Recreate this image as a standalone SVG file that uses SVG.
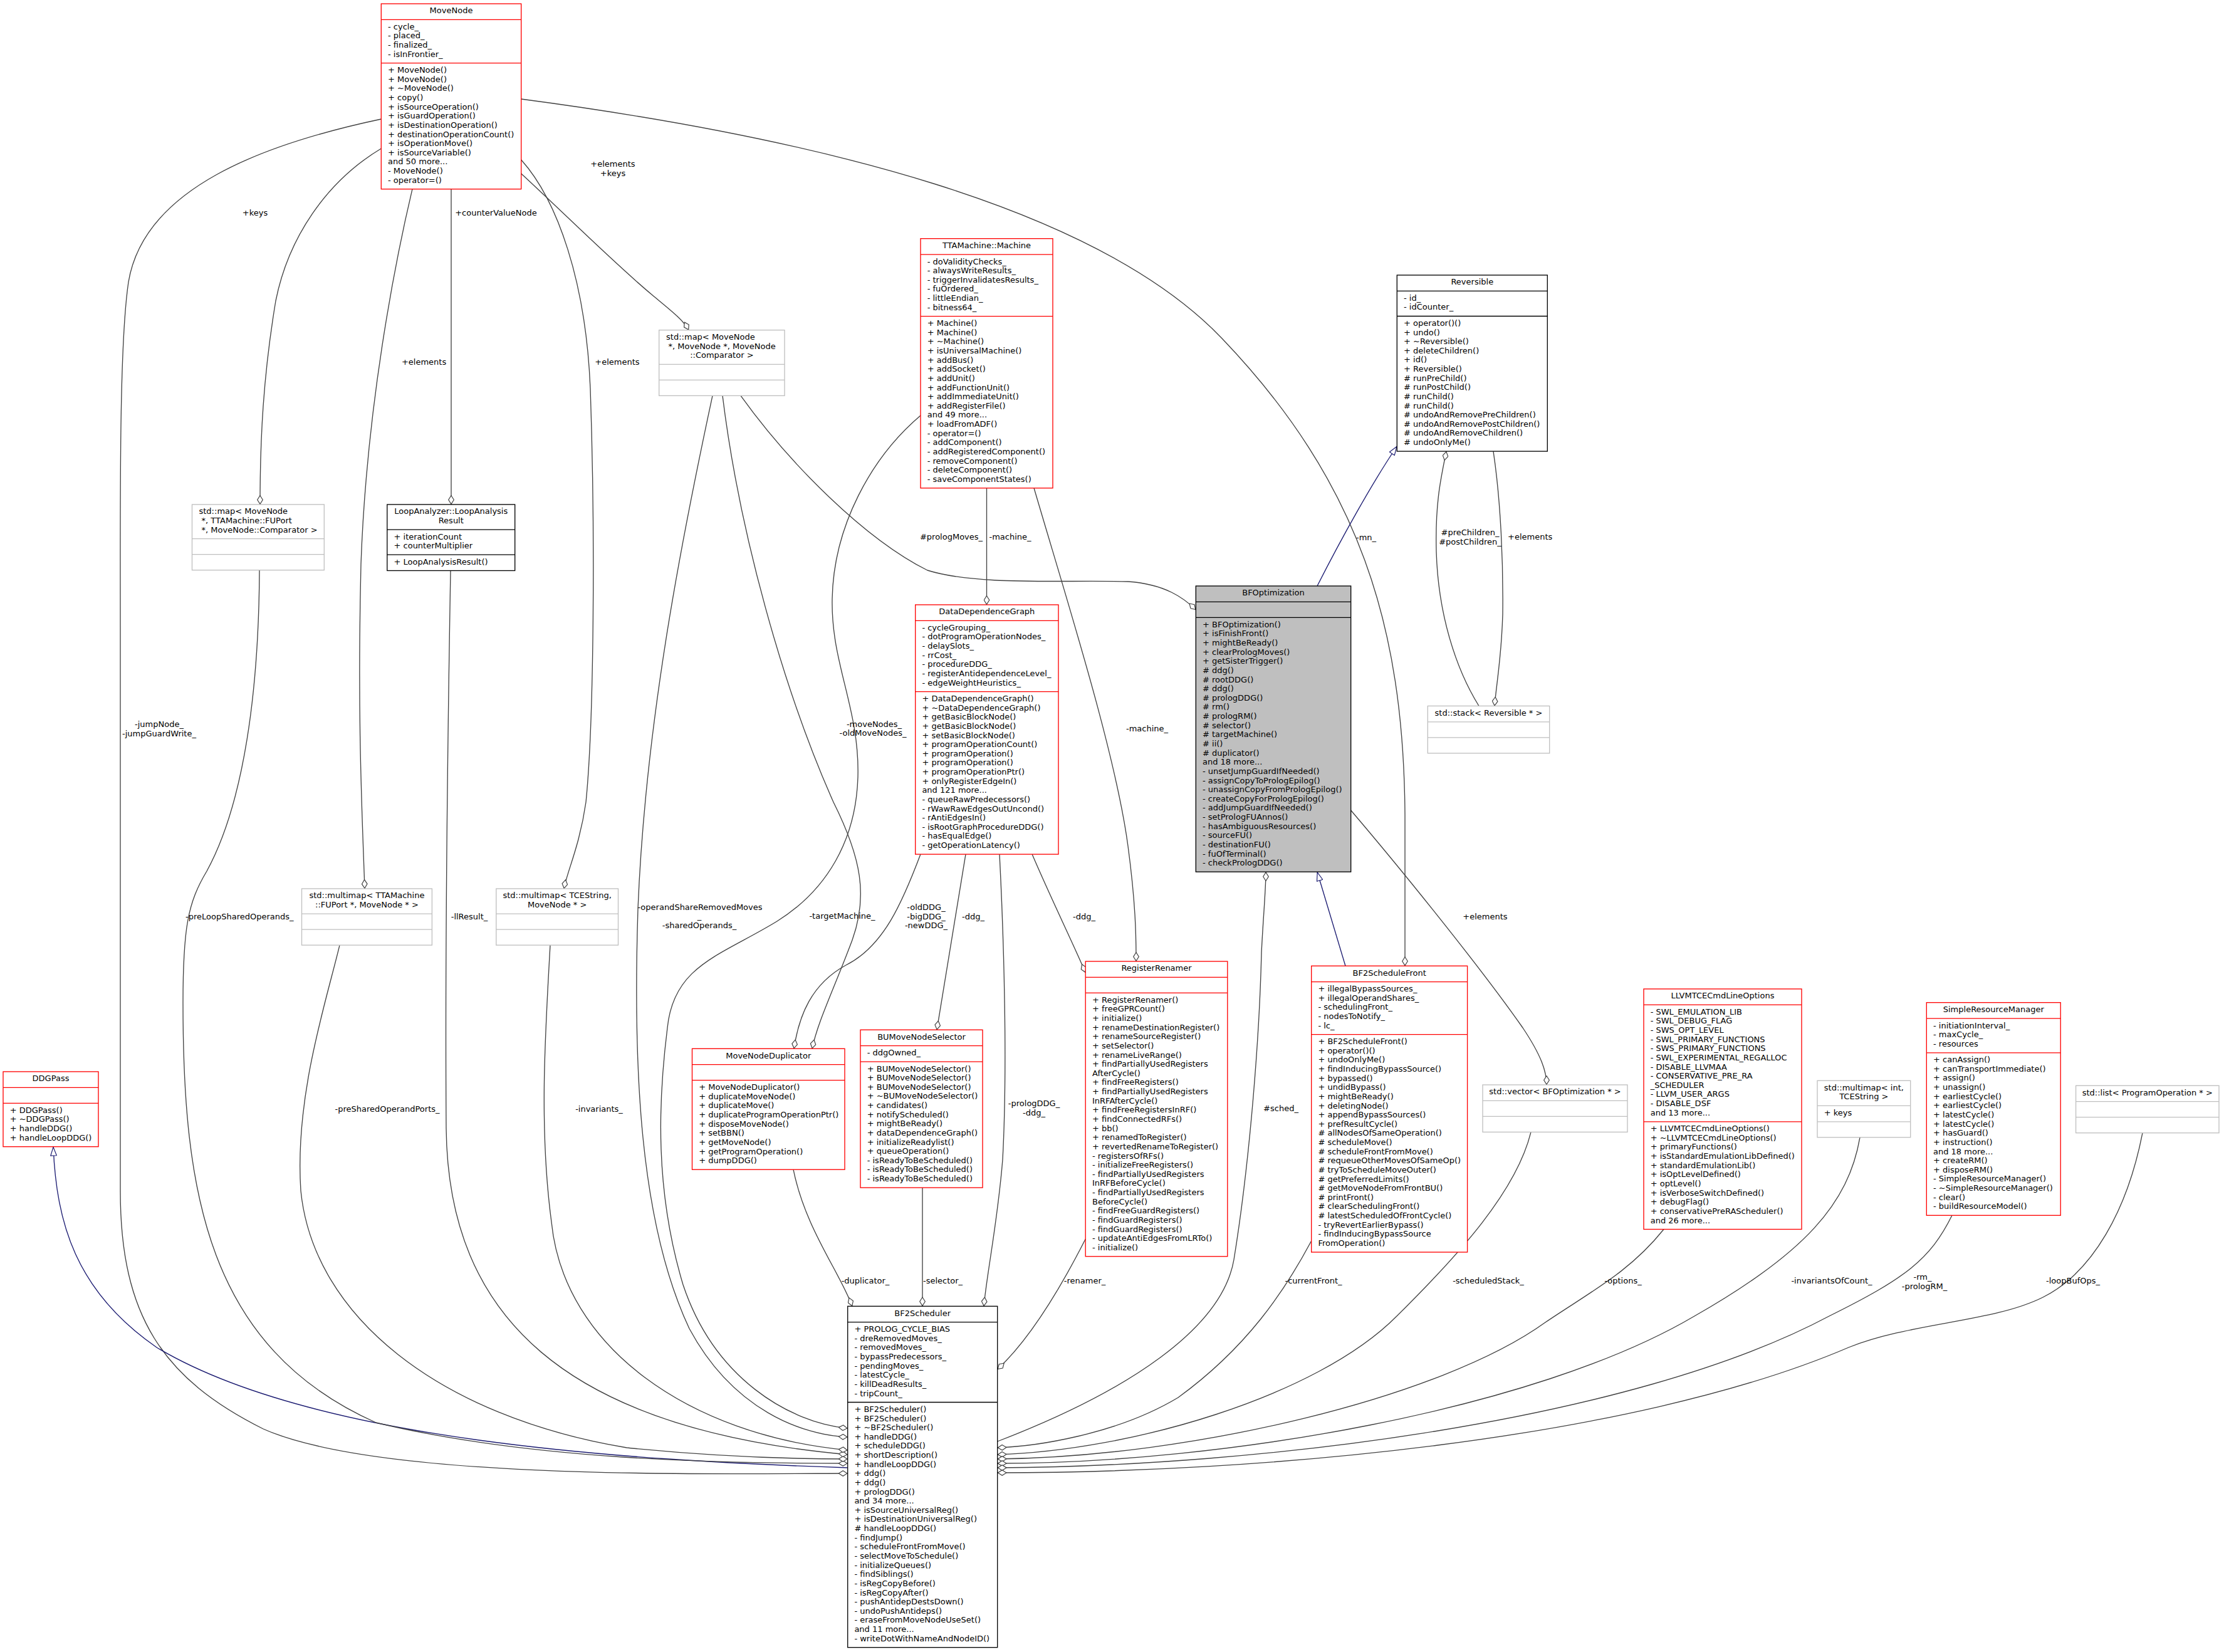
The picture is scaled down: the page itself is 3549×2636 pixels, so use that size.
<svg xmlns="http://www.w3.org/2000/svg" width="3549" height="2636" viewBox="0 0 3549 2636">
<style>
text{font-family:"DejaVu Sans","Liberation Sans",sans-serif;font-size:13px;fill:#000}
.t{text-anchor:middle}
rect{fill:#fff;stroke-width:1.33}
line{stroke-width:1.33}
.red rect,.red line{stroke:#ff0000}
.blk rect,.blk line{stroke:#000}
.gry rect,.gry line{stroke:#bfbfbf}
.sel rect{fill:#bfbfbf;stroke:#000}
.sel line{stroke:#000}
.e path{fill:none;stroke:#404040;stroke-width:1.33}
.e path.a{marker-end:url(#dia)}
.e path.i{stroke:#191970;marker-end:url(#tri)}
.lbl text{text-anchor:middle}
</style>
<defs>
<marker id="dia" viewBox="0 0 15 10" refX="15" refY="5" markerWidth="15" markerHeight="10" markerUnits="userSpaceOnUse" orient="auto"><path d="M0.7,5 L7.5,0.7 L14.3,5 L7.5,9.3 Z" fill="#fff" stroke="#404040" stroke-width="1.2"/></marker>
<marker id="tri" viewBox="0 0 15 11" refX="15" refY="5.5" markerWidth="15" markerHeight="11" markerUnits="userSpaceOnUse" orient="auto"><path d="M0.7,0.7 L14.3,5.5 L0.7,10.3 Z" fill="#fff" stroke="#191970" stroke-width="1.2"/></marker>
</defs>
<rect x="0" y="0" width="3549" height="2636" style="fill:#fff;stroke:none"/>

<g id="edges" class="e">
<path class="a" d="M608.3,190 C420,230 230,300 205,450 C190,550 192,800 192,1000 L192,1900 C192,2100 260,2200 420,2280 C600,2360 1100,2352 1352.7,2351"/>
<path class="a" d="M608.3,237 C520,290 460,380 440,480 C420,600 415,700 415,805"/>
<path class="a" d="M658,301.7 C630,420 585,650 576,900 C570,1150 578,1300 582,1418"/>
<path class="a" d="M720,301.7 L720,805"/>
<path class="a" d="M831.7,255 C890,320 935,450 942,620 C950,850 948,1150 935,1280 C925,1350 905,1390 900,1418"/>
<path class="a" d="M831.7,277 C900,340 980,420 1040,470 C1070,495 1090,510 1099,526.7"/>
<path class="a" d="M831.7,158 C1300,220 1750,330 1950,540 C2170,770 2240,1000 2242,1300 L2242,1541.3"/>
<path class="a" d="M1574.5,778.8 L1574.5,965"/>
<path class="a" d="M1182,631.4 C1260,740 1380,860 1480,910 C1560,935 1700,925 1800,928 C1860,932 1890,955 1908.3,973"/>
<path class="a" d="M1650,778.8 C1700,950 1780,1200 1800,1350 C1812,1440 1813,1490 1813,1534"/>
<path class="a" d="M1469,663 C1390,730 1330,840 1328,956 C1326,1060 1372,1130 1369,1240 C1366,1340 1320,1420 1240,1470 C1150,1525 1075,1540 1065,1640 C1050,1760 1045,1900 1090,2050 C1140,2200 1260,2270 1352.7,2279"/>
<path class="a" d="M1137,631.4 C1090,850 1030,1150 1018,1450 C1010,1700 1020,1950 1100,2120 C1170,2250 1280,2290 1352.7,2293"/>
<path class="a" d="M1153,631.4 C1180,850 1250,1100 1330,1280 C1375,1370 1385,1430 1360,1500 C1330,1580 1305,1630 1296,1673.3"/>
<path class="a" d="M1469,1363.1 C1440,1440 1410,1510 1350,1540 C1295,1570 1275,1620 1267,1673.3"/>
<path class="a" d="M1541,1363.1 L1495,1643.3"/>
<path class="a" d="M1595,1363.1 C1602,1500 1608,1700 1600,1850 C1592,1950 1575,2030 1570,2084.3"/>
<path class="a" d="M1647,1363.1 C1680,1440 1710,1500 1732.2,1552"/>
<path class="i" d="M2102,935 C2140,860 2190,770 2229.3,712"/>
<path class="i" d="M2147,1541.3 L2102,1391.2"/>
<path class="a" d="M1591.7,2300 C1800,2220 1950,2120 1969,2010 C1995,1850 2010,1650 2013,1520 C2016,1460 2020,1420 2020,1391.2"/>
<path class="a" d="M2155.7,1293 C2230,1380 2360,1540 2430,1640 C2460,1685 2468,1710 2468,1731"/>
<path class="a" d="M2360,1126.5 C2323,1067 2295,980 2292,880 C2290,800 2300,760 2308,720.1"/>
<path class="a" d="M2383,720.1 C2395,800 2399,900 2398,980 C2396,1050 2388,1090 2385,1126.5"/>
<path class="i" d="M1352.7,2342 C1000,2330 500,2300 250,2150 C120,2060 90,1950 85,1829.7"/>
<path class="a" d="M414,909.7 C413,1100 390,1280 330,1390 C300,1440 292,1480 292,1600 C292,1900 330,2150 600,2270 C850,2330 1150,2335 1352.7,2335"/>
<path class="a" d="M542,1508.1 C520,1600 470,1750 480,1900 C500,2100 700,2260 1000,2310 C1150,2325 1280,2328 1352.7,2328"/>
<path class="a" d="M719,910.5 C714,1200 710,1500 712,1800 C715,2100 900,2280 1352.7,2321"/>
<path class="a" d="M878,1508.1 C870,1650 860,1800 880,1950 C900,2150 1100,2290 1352.7,2314"/>
<path class="a" d="M1266,1866.2 C1285,1960 1340,2030 1360,2084.3"/>
<path class="a" d="M1472,1895.1 L1472,2084.3"/>
<path class="a" d="M1732.2,1977 C1690,2060 1640,2140 1591.7,2185"/>
<path class="a" d="M2092.7,1980 C2050,2060 1990,2150 1880,2230 C1780,2290 1650,2308 1591.7,2310"/>
<path class="a" d="M2443,1806.4 C2420,1900 2330,2000 2229,2100 C2100,2230 1800,2315 1591.7,2321"/>
<path class="a" d="M2655,1961.5 C2600,2030 2540,2060 2466,2110 C2300,2230 1900,2325 1591.7,2328"/>
<path class="a" d="M2968,1814.8 C2950,1920 2880,2000 2704,2100 C2450,2250 1950,2335 1591.7,2335"/>
<path class="a" d="M3115,1939.3 C3080,2010 3040,2040 2919,2100 C2600,2270 2000,2340 1591.7,2342"/>
<path class="a" d="M3419,1807.7 C3395,1930 3340,2030 3260,2070 C3180,2110 3050,2110 2950,2150 C2600,2300 2000,2350 1591.7,2350"/>
</g>

<g id="edge-labels" class="lbl">
<text x="254" y="1160">-jumpNode_</text><text x="254" y="1175">-jumpGuardWrite_</text>
<text x="407" y="344">+keys</text>
<text x="676.6" y="582">+elements</text>
<text x="791.5" y="344">+counterValueNode</text>
<text x="985" y="582">+elements</text>
<text x="978" y="266">+elements</text><text x="978" y="281">+keys</text>
<text x="2180" y="862">-mn_</text>
<text x="1518" y="861">#prologMoves_</text>
<text x="1612" y="861">-machine_</text>
<text x="1830.5" y="1166.5">-machine_</text>
<text x="1395" y="1159.5">-moveNodes_</text><text x="1393" y="1174">-oldMoveNodes_</text>
<text x="1117" y="1451.5">-operandShareRemovedMoves</text><text x="1116" y="1466">_</text><text x="1116" y="1480.5">-sharedOperands_</text>
<text x="1344" y="1466">-targetMachine_</text>
<text x="1478" y="1452">-oldDDG_</text><text x="1478" y="1466.5">-bigDDG_</text><text x="1478" y="1481">-newDDG_</text>
<text x="1553" y="1466.5">-ddg_</text>
<text x="1730" y="1466.5">-ddg_</text>
<text x="2346" y="854">#preChildren_</text><text x="2346" y="868.6">#postChildren_</text>
<text x="2441.7" y="861">+elements</text>
<text x="2044" y="1772.8">#sched_</text>
<text x="2370" y="1466.5">+elements</text>
<text x="382.3" y="1467">-preLoopSharedOperands_</text>
<text x="749" y="1467">-llResult_</text>
<text x="618" y="1773.5">-preSharedOperandPorts_</text>
<text x="956" y="1773.5">-invariants_</text>
<text x="1650" y="1765">-prologDDG_</text><text x="1650" y="1779.6">-ddg_</text>
<text x="1381" y="2048.4">-duplicator_</text>
<text x="1504.5" y="2048.4">-selector_</text>
<text x="1731" y="2048.4">-renamer_</text>
<text x="2096" y="2048.4">-currentFront_</text>
<text x="2375" y="2048.4">-scheduledStack_</text>
<text x="2590" y="2048.4">-options_</text>
<text x="2923" y="2048.4">-invariantsOfCount_</text>
<text x="3068" y="2042">-rm_</text><text x="3071" y="2056.6">-prologRM_</text>
<text x="3308" y="2048.4">-loopBufOps_</text>
</g>

<g id="MoveNode" class="red">
<rect x="608.3" y="6" width="223.4" height="295.7"/>
<line x1="608.3" y1="31.4" x2="831.7" y2="31.4"/><line x1="608.3" y1="100.7" x2="831.7" y2="100.7"/>
<text class="t" x="720" y="21.4">MoveNode</text>
<text y="46.8"><tspan x="619" dy="0">- cycle_</tspan><tspan x="619" dy="14.63">- placed_</tspan><tspan x="619" dy="14.63">- finalized_</tspan><tspan x="619" dy="14.63">- isInFrontier_</tspan></text>
<text y="116.1"><tspan x="619" dy="0">+ MoveNode()</tspan><tspan x="619" dy="14.63">+ MoveNode()</tspan><tspan x="619" dy="14.63">+ ~MoveNode()</tspan><tspan x="619" dy="14.63">+ copy()</tspan><tspan x="619" dy="14.63">+ isSourceOperation()</tspan><tspan x="619" dy="14.63">+ isGuardOperation()</tspan><tspan x="619" dy="14.63">+ isDestinationOperation()</tspan><tspan x="619" dy="14.63">+ destinationOperationCount()</tspan><tspan x="619" dy="14.63">+ isOperationMove()</tspan><tspan x="619" dy="14.63">+ isSourceVariable()</tspan><tspan x="619" dy="14.63">and 50 more...</tspan><tspan x="619" dy="14.63">- MoveNode()</tspan><tspan x="619" dy="14.63">- operator=()</tspan></text>
</g>

<g id="Machine" class="red">
<rect x="1469" y="380.7" width="211" height="398.1"/>
<line x1="1469" y1="406.1" x2="1680" y2="406.1"/><line x1="1469" y1="504.7" x2="1680" y2="504.7"/>
<text class="t" x="1574.5" y="396.1">TTAMachine::Machine</text>
<text y="421.5"><tspan x="1479.7" dy="0">- doValidityChecks_</tspan><tspan x="1479.7" dy="14.63">- alwaysWriteResults_</tspan><tspan x="1479.7" dy="14.63">- triggerInvalidatesResults_</tspan><tspan x="1479.7" dy="14.63">- fuOrdered_</tspan><tspan x="1479.7" dy="14.63">- littleEndian_</tspan><tspan x="1479.7" dy="14.63">- bitness64_</tspan></text>
<text y="520.1"><tspan x="1479.7" dy="0">+ Machine()</tspan><tspan x="1479.7" dy="14.63">+ Machine()</tspan><tspan x="1479.7" dy="14.63">+ ~Machine()</tspan><tspan x="1479.7" dy="14.63">+ isUniversalMachine()</tspan><tspan x="1479.7" dy="14.63">+ addBus()</tspan><tspan x="1479.7" dy="14.63">+ addSocket()</tspan><tspan x="1479.7" dy="14.63">+ addUnit()</tspan><tspan x="1479.7" dy="14.63">+ addFunctionUnit()</tspan><tspan x="1479.7" dy="14.63">+ addImmediateUnit()</tspan><tspan x="1479.7" dy="14.63">+ addRegisterFile()</tspan><tspan x="1479.7" dy="14.63">and 49 more...</tspan><tspan x="1479.7" dy="14.63">+ loadFromADF()</tspan><tspan x="1479.7" dy="14.63">- operator=()</tspan><tspan x="1479.7" dy="14.63">- addComponent()</tspan><tspan x="1479.7" dy="14.63">- addRegisteredComponent()</tspan><tspan x="1479.7" dy="14.63">- removeComponent()</tspan><tspan x="1479.7" dy="14.63">- deleteComponent()</tspan><tspan x="1479.7" dy="14.63">- saveComponentStates()</tspan></text>
</g>

<g id="Reversible" class="blk">
<rect x="2229.3" y="439" width="240" height="281.1"/>
<line x1="2229.3" y1="464.4" x2="2469.3" y2="464.4"/><line x1="2229.3" y1="504.5" x2="2469.3" y2="504.5"/>
<text class="t" x="2349.3" y="454.4">Reversible</text>
<text y="479.8"><tspan x="2240" dy="0">- id_</tspan><tspan x="2240" dy="14.63">- idCounter_</tspan></text>
<text y="519.9"><tspan x="2240" dy="0">+ operator()()</tspan><tspan x="2240" dy="14.63">+ undo()</tspan><tspan x="2240" dy="14.63">+ ~Reversible()</tspan><tspan x="2240" dy="14.63">+ deleteChildren()</tspan><tspan x="2240" dy="14.63">+ id()</tspan><tspan x="2240" dy="14.63">+ Reversible()</tspan><tspan x="2240" dy="14.63"># runPreChild()</tspan><tspan x="2240" dy="14.63"># runPostChild()</tspan><tspan x="2240" dy="14.63"># runChild()</tspan><tspan x="2240" dy="14.63"># runChild()</tspan><tspan x="2240" dy="14.63"># undoAndRemovePreChildren()</tspan><tspan x="2240" dy="14.63"># undoAndRemovePostChildren()</tspan><tspan x="2240" dy="14.63"># undoAndRemoveChildren()</tspan><tspan x="2240" dy="14.63"># undoOnlyMe()</tspan></text>
</g>

<g id="StackReversible" class="gry">
<rect x="2278.3" y="1126.5" width="194.4" height="75.4"/>
<line x1="2278.3" y1="1151.9" x2="2472.7" y2="1151.9"/><line x1="2278.3" y1="1176.9" x2="2472.7" y2="1176.9"/>
<text class="t" x="2375.5" y="1141.9">std::stack&lt; Reversible * &gt;</text>
</g>

<g id="BFOptimization" class="sel">
<rect x="1908.3" y="935" width="247.4" height="456.2"/>
<line x1="1908.3" y1="960.4" x2="2155.7" y2="960.4"/><line x1="1908.3" y1="985.4" x2="2155.7" y2="985.4"/>
<text class="t" x="2032" y="950.4">BFOptimization</text>
<text y="1000.8"><tspan x="1919" dy="0">+ BFOptimization()</tspan><tspan x="1919" dy="14.63">+ isFinishFront()</tspan><tspan x="1919" dy="14.63">+ mightBeReady()</tspan><tspan x="1919" dy="14.63">+ clearPrologMoves()</tspan><tspan x="1919" dy="14.63">+ getSisterTrigger()</tspan><tspan x="1919" dy="14.63"># ddg()</tspan><tspan x="1919" dy="14.63"># rootDDG()</tspan><tspan x="1919" dy="14.63"># ddg()</tspan><tspan x="1919" dy="14.63"># prologDDG()</tspan><tspan x="1919" dy="14.63"># rm()</tspan><tspan x="1919" dy="14.63"># prologRM()</tspan><tspan x="1919" dy="14.63"># selector()</tspan><tspan x="1919" dy="14.63"># targetMachine()</tspan><tspan x="1919" dy="14.63"># ii()</tspan><tspan x="1919" dy="14.63"># duplicator()</tspan><tspan x="1919" dy="14.63">and 18 more...</tspan><tspan x="1919" dy="14.63">- unsetJumpGuardIfNeeded()</tspan><tspan x="1919" dy="14.63">- assignCopyToPrologEpilog()</tspan><tspan x="1919" dy="14.63">- unassignCopyFromPrologEpilog()</tspan><tspan x="1919" dy="14.63">- createCopyForPrologEpilog()</tspan><tspan x="1919" dy="14.63">- addJumpGuardIfNeeded()</tspan><tspan x="1919" dy="14.63">- setPrologFUAnnos()</tspan><tspan x="1919" dy="14.63">- hasAmbiguousResources()</tspan><tspan x="1919" dy="14.63">- sourceFU()</tspan><tspan x="1919" dy="14.63">- destinationFU()</tspan><tspan x="1919" dy="14.63">- fuOfTerminal()</tspan><tspan x="1919" dy="14.63">- checkPrologDDG()</tspan></text>
</g>

<g id="DataDependenceGraph" class="red">
<rect x="1460.7" y="965" width="228.3" height="398.1"/>
<line x1="1460.7" y1="990.4" x2="1689" y2="990.4"/><line x1="1460.7" y1="1103.6" x2="1689" y2="1103.6"/>
<text class="t" x="1574.85" y="980.4">DataDependenceGraph</text>
<text y="1005.8"><tspan x="1471.4" dy="0">- cycleGrouping_</tspan><tspan x="1471.4" dy="14.63">- dotProgramOperationNodes_</tspan><tspan x="1471.4" dy="14.63">- delaySlots_</tspan><tspan x="1471.4" dy="14.63">- rrCost_</tspan><tspan x="1471.4" dy="14.63">- procedureDDG_</tspan><tspan x="1471.4" dy="14.63">- registerAntidependenceLevel_</tspan><tspan x="1471.4" dy="14.63">- edgeWeightHeuristics_</tspan></text>
<text y="1119"><tspan x="1471.4" dy="0">+ DataDependenceGraph()</tspan><tspan x="1471.4" dy="14.63">+ ~DataDependenceGraph()</tspan><tspan x="1471.4" dy="14.63">+ getBasicBlockNode()</tspan><tspan x="1471.4" dy="14.63">+ getBasicBlockNode()</tspan><tspan x="1471.4" dy="14.63">+ setBasicBlockNode()</tspan><tspan x="1471.4" dy="14.63">+ programOperationCount()</tspan><tspan x="1471.4" dy="14.63">+ programOperation()</tspan><tspan x="1471.4" dy="14.63">+ programOperation()</tspan><tspan x="1471.4" dy="14.63">+ programOperationPtr()</tspan><tspan x="1471.4" dy="14.63">+ onlyRegisterEdgeIn()</tspan><tspan x="1471.4" dy="14.63">and 121 more...</tspan><tspan x="1471.4" dy="14.63">- queueRawPredecessors()</tspan><tspan x="1471.4" dy="14.63">- rWawRawEdgesOutUncond()</tspan><tspan x="1471.4" dy="14.63">- rAntiEdgesIn()</tspan><tspan x="1471.4" dy="14.63">- isRootGraphProcedureDDG()</tspan><tspan x="1471.4" dy="14.63">- hasEqualEdge()</tspan><tspan x="1471.4" dy="14.63">- getOperationLatency()</tspan></text>
</g>

<g id="RegisterRenamer" class="red">
<rect x="1732.2" y="1534" width="226.6" height="470.8"/>
<line x1="1732.2" y1="1559.4" x2="1958.8" y2="1559.4"/><line x1="1732.2" y1="1584.4" x2="1958.8" y2="1584.4"/>
<text class="t" x="1845.5" y="1549.4">RegisterRenamer</text>
<text y="1599.8"><tspan x="1743" dy="0">+ RegisterRenamer()</tspan><tspan x="1743" dy="14.63">+ freeGPRCount()</tspan><tspan x="1743" dy="14.63">+ initialize()</tspan><tspan x="1743" dy="14.63">+ renameDestinationRegister()</tspan><tspan x="1743" dy="14.63">+ renameSourceRegister()</tspan><tspan x="1743" dy="14.63">+ setSelector()</tspan><tspan x="1743" dy="14.63">+ renameLiveRange()</tspan><tspan x="1743" dy="14.63">+ findPartiallyUsedRegisters</tspan><tspan x="1743" dy="14.63">AfterCycle()</tspan><tspan x="1743" dy="14.63">+ findFreeRegisters()</tspan><tspan x="1743" dy="14.63">+ findPartiallyUsedRegisters</tspan><tspan x="1743" dy="14.63">InRFAfterCycle()</tspan><tspan x="1743" dy="14.63">+ findFreeRegistersInRF()</tspan><tspan x="1743" dy="14.63">+ findConnectedRFs()</tspan><tspan x="1743" dy="14.63">+ bb()</tspan><tspan x="1743" dy="14.63">+ renamedToRegister()</tspan><tspan x="1743" dy="14.63">+ revertedRenameToRegister()</tspan><tspan x="1743" dy="14.63">- registersOfRFs()</tspan><tspan x="1743" dy="14.63">- initializeFreeRegisters()</tspan><tspan x="1743" dy="14.63">- findPartiallyUsedRegisters</tspan><tspan x="1743" dy="14.63">InRFBeforeCycle()</tspan><tspan x="1743" dy="14.63">- findPartiallyUsedRegisters</tspan><tspan x="1743" dy="14.63">BeforeCycle()</tspan><tspan x="1743" dy="14.63">- findFreeGuardRegisters()</tspan><tspan x="1743" dy="14.63">- findGuardRegisters()</tspan><tspan x="1743" dy="14.63">- findGuardRegisters()</tspan><tspan x="1743" dy="14.63">- updateAntiEdgesFromLRTo()</tspan><tspan x="1743" dy="14.63">- initialize()</tspan></text>
</g>

<g id="BF2ScheduleFront" class="red">
<rect x="2092.7" y="1541.3" width="248.9" height="456.7"/>
<line x1="2092.7" y1="1566.7" x2="2341.6" y2="1566.7"/><line x1="2092.7" y1="1650.7" x2="2341.6" y2="1650.7"/>
<text class="t" x="2217.2" y="1556.7">BF2ScheduleFront</text>
<text y="1582.1"><tspan x="2103.4" dy="0">+ illegalBypassSources_</tspan><tspan x="2103.4" dy="14.63">+ illegalOperandShares_</tspan><tspan x="2103.4" dy="14.63">- schedulingFront_</tspan><tspan x="2103.4" dy="14.63">- nodesToNotify_</tspan><tspan x="2103.4" dy="14.63">- lc_</tspan></text>
<text y="1666.1"><tspan x="2103.4" dy="0">+ BF2ScheduleFront()</tspan><tspan x="2103.4" dy="14.63">+ operator()()</tspan><tspan x="2103.4" dy="14.63">+ undoOnlyMe()</tspan><tspan x="2103.4" dy="14.63">+ findInducingBypassSource()</tspan><tspan x="2103.4" dy="14.63">+ bypassed()</tspan><tspan x="2103.4" dy="14.63">+ undidBypass()</tspan><tspan x="2103.4" dy="14.63">+ mightBeReady()</tspan><tspan x="2103.4" dy="14.63">+ deletingNode()</tspan><tspan x="2103.4" dy="14.63">+ appendBypassSources()</tspan><tspan x="2103.4" dy="14.63">+ prefResultCycle()</tspan><tspan x="2103.4" dy="14.63"># allNodesOfSameOperation()</tspan><tspan x="2103.4" dy="14.63"># scheduleMove()</tspan><tspan x="2103.4" dy="14.63"># scheduleFrontFromMove()</tspan><tspan x="2103.4" dy="14.63"># requeueOtherMovesOfSameOp()</tspan><tspan x="2103.4" dy="14.63"># tryToScheduleMoveOuter()</tspan><tspan x="2103.4" dy="14.63"># getPreferredLimits()</tspan><tspan x="2103.4" dy="14.63"># getMoveNodeFromFrontBU()</tspan><tspan x="2103.4" dy="14.63"># printFront()</tspan><tspan x="2103.4" dy="14.63"># clearSchedulingFront()</tspan><tspan x="2103.4" dy="14.63"># latestScheduledOfFrontCycle()</tspan><tspan x="2103.4" dy="14.63">- tryRevertEarlierBypass()</tspan><tspan x="2103.4" dy="14.63">- findInducingBypassSource</tspan><tspan x="2103.4" dy="14.63">FromOperation()</tspan></text>
</g>

<g id="LLVMTCECmdLineOptions" class="red">
<rect x="2623" y="1578" width="252" height="383.5"/>
<line x1="2623" y1="1603.4" x2="2875" y2="1603.4"/><line x1="2623" y1="1789.8" x2="2875" y2="1789.8"/>
<text class="t" x="2749" y="1593.4">LLVMTCECmdLineOptions</text>
<text y="1618.8"><tspan x="2633.7" dy="0">- SWL_EMULATION_LIB</tspan><tspan x="2633.7" dy="14.63">- SWL_DEBUG_FLAG</tspan><tspan x="2633.7" dy="14.63">- SWS_OPT_LEVEL</tspan><tspan x="2633.7" dy="14.63">- SWL_PRIMARY_FUNCTIONS</tspan><tspan x="2633.7" dy="14.63">- SWS_PRIMARY_FUNCTIONS</tspan><tspan x="2633.7" dy="14.63">- SWL_EXPERIMENTAL_REGALLOC</tspan><tspan x="2633.7" dy="14.63">- DISABLE_LLVMAA</tspan><tspan x="2633.7" dy="14.63">- CONSERVATIVE_PRE_RA</tspan><tspan x="2633.7" dy="14.63">_SCHEDULER</tspan><tspan x="2633.7" dy="14.63">- LLVM_USER_ARGS</tspan><tspan x="2633.7" dy="14.63">- DISABLE_DSF</tspan><tspan x="2633.7" dy="14.63">and 13 more...</tspan></text>
<text y="1805.2"><tspan x="2633.7" dy="0">+ LLVMTCECmdLineOptions()</tspan><tspan x="2633.7" dy="14.63">+ ~LLVMTCECmdLineOptions()</tspan><tspan x="2633.7" dy="14.63">+ primaryFunctions()</tspan><tspan x="2633.7" dy="14.63">+ isStandardEmulationLibDefined()</tspan><tspan x="2633.7" dy="14.63">+ standardEmulationLib()</tspan><tspan x="2633.7" dy="14.63">+ isOptLevelDefined()</tspan><tspan x="2633.7" dy="14.63">+ optLevel()</tspan><tspan x="2633.7" dy="14.63">+ isVerboseSwitchDefined()</tspan><tspan x="2633.7" dy="14.63">+ debugFlag()</tspan><tspan x="2633.7" dy="14.63">+ conservativePreRAScheduler()</tspan><tspan x="2633.7" dy="14.63">and 26 more...</tspan></text>
</g>

<g id="MultimapIntTCEString" class="gry">
<rect x="2900" y="1724.3" width="148.7" height="90.5"/>
<line x1="2900" y1="1764.4" x2="3048.7" y2="1764.4"/><line x1="2900" y1="1789.8" x2="3048.7" y2="1789.8"/>
<text class="t" x="2974.35" y="1739.7">std::multimap&lt; int,</text>
<text class="t" x="2974.35" y="1754.3">TCEString &gt;</text>
<text x="2910.7" y="1779.8">+ keys</text>
</g>

<g id="SimpleResourceManager" class="red">
<rect x="3074.3" y="1599.7" width="213.9" height="339.6"/>
<line x1="3074.3" y1="1625.1" x2="3288.2" y2="1625.1"/><line x1="3074.3" y1="1679.8" x2="3288.2" y2="1679.8"/>
<text class="t" x="3181.25" y="1615.1">SimpleResourceManager</text>
<text y="1640.5"><tspan x="3085" dy="0">- initiationInterval_</tspan><tspan x="3085" dy="14.63">- maxCycle_</tspan><tspan x="3085" dy="14.63">- resources</tspan></text>
<text y="1695.2"><tspan x="3085" dy="0">+ canAssign()</tspan><tspan x="3085" dy="14.63">+ canTransportImmediate()</tspan><tspan x="3085" dy="14.63">+ assign()</tspan><tspan x="3085" dy="14.63">+ unassign()</tspan><tspan x="3085" dy="14.63">+ earliestCycle()</tspan><tspan x="3085" dy="14.63">+ earliestCycle()</tspan><tspan x="3085" dy="14.63">+ latestCycle()</tspan><tspan x="3085" dy="14.63">+ latestCycle()</tspan><tspan x="3085" dy="14.63">+ hasGuard()</tspan><tspan x="3085" dy="14.63">+ instruction()</tspan><tspan x="3085" dy="14.63">and 18 more...</tspan><tspan x="3085" dy="14.63">+ createRM()</tspan><tspan x="3085" dy="14.63">+ disposeRM()</tspan><tspan x="3085" dy="14.63">- SimpleResourceManager()</tspan><tspan x="3085" dy="14.63">- ~SimpleResourceManager()</tspan><tspan x="3085" dy="14.63">- clear()</tspan><tspan x="3085" dy="14.63">- buildResourceModel()</tspan></text>
</g>

<g id="ListProgramOperation" class="gry">
<rect x="3312.6" y="1732.3" width="228.4" height="75.4"/>
<line x1="3312.6" y1="1757.7" x2="3541" y2="1757.7"/><line x1="3312.6" y1="1782.7" x2="3541" y2="1782.7"/>
<text class="t" x="3426.8" y="1747.7">std::list&lt; ProgramOperation * &gt;</text>
</g>

<g id="VectorBFOptimization" class="gry">
<rect x="2366" y="1731" width="231" height="75.4"/>
<line x1="2366" y1="1756.4" x2="2597" y2="1756.4"/><line x1="2366" y1="1781.4" x2="2597" y2="1781.4"/>
<text class="t" x="2481.5" y="1746.4">std::vector&lt; BFOptimization * &gt;</text>
</g>

<g id="BF2Scheduler" class="blk">
<rect x="1352.7" y="2084.3" width="239" height="544.4"/>
<line x1="1352.7" y1="2109.7" x2="1591.7" y2="2109.7"/><line x1="1352.7" y1="2237.5" x2="1591.7" y2="2237.5"/>
<text class="t" x="1472.2" y="2099.7">BF2Scheduler</text>
<text y="2125.1"><tspan x="1363.4" dy="0">+ PROLOG_CYCLE_BIAS</tspan><tspan x="1363.4" dy="14.63">- dreRemovedMoves_</tspan><tspan x="1363.4" dy="14.63">- removedMoves_</tspan><tspan x="1363.4" dy="14.63">- bypassPredecessors_</tspan><tspan x="1363.4" dy="14.63">- pendingMoves_</tspan><tspan x="1363.4" dy="14.63">- latestCycle_</tspan><tspan x="1363.4" dy="14.63">- killDeadResults_</tspan><tspan x="1363.4" dy="14.63">- tripCount_</tspan></text>
<text y="2252.9"><tspan x="1363.4" dy="0">+ BF2Scheduler()</tspan><tspan x="1363.4" dy="14.63">+ BF2Scheduler()</tspan><tspan x="1363.4" dy="14.63">+ ~BF2Scheduler()</tspan><tspan x="1363.4" dy="14.63">+ handleDDG()</tspan><tspan x="1363.4" dy="14.63">+ scheduleDDG()</tspan><tspan x="1363.4" dy="14.63">+ shortDescription()</tspan><tspan x="1363.4" dy="14.63">+ handleLoopDDG()</tspan><tspan x="1363.4" dy="14.63">+ ddg()</tspan><tspan x="1363.4" dy="14.63">+ ddg()</tspan><tspan x="1363.4" dy="14.63">+ prologDDG()</tspan><tspan x="1363.4" dy="14.63">and 34 more...</tspan><tspan x="1363.4" dy="14.63">+ isSourceUniversalReg()</tspan><tspan x="1363.4" dy="14.63">+ isDestinationUniversalReg()</tspan><tspan x="1363.4" dy="14.63"># handleLoopDDG()</tspan><tspan x="1363.4" dy="14.63">- findJump()</tspan><tspan x="1363.4" dy="14.63">- scheduleFrontFromMove()</tspan><tspan x="1363.4" dy="14.63">- selectMoveToSchedule()</tspan><tspan x="1363.4" dy="14.63">- initializeQueues()</tspan><tspan x="1363.4" dy="14.63">- findSiblings()</tspan><tspan x="1363.4" dy="14.63">- isRegCopyBefore()</tspan><tspan x="1363.4" dy="14.63">- isRegCopyAfter()</tspan><tspan x="1363.4" dy="14.63">- pushAntidepDestsDown()</tspan><tspan x="1363.4" dy="14.63">- undoPushAntideps()</tspan><tspan x="1363.4" dy="14.63">- eraseFromMoveNodeUseSet()</tspan><tspan x="1363.4" dy="14.63">and 11 more...</tspan><tspan x="1363.4" dy="14.63">- writeDotWithNameAndNodeID()</tspan></text>
</g>

<g id="DDGPass" class="red">
<rect x="5" y="1710" width="152" height="119.7"/>
<line x1="5" y1="1735.4" x2="157" y2="1735.4"/><line x1="5" y1="1760.4" x2="157" y2="1760.4"/>
<text class="t" x="81" y="1725.4">DDGPass</text>
<text y="1775.8"><tspan x="15.7" dy="0">+ DDGPass()</tspan><tspan x="15.7" dy="14.63">+ ~DDGPass()</tspan><tspan x="15.7" dy="14.63">+ handleDDG()</tspan><tspan x="15.7" dy="14.63">+ handleLoopDDG()</tspan></text>
</g>

<g id="MoveNodeDuplicator" class="red">
<rect x="1104.5" y="1673.3" width="243.5" height="192.9"/>
<line x1="1104.5" y1="1698.7" x2="1348" y2="1698.7"/><line x1="1104.5" y1="1723.7" x2="1348" y2="1723.7"/>
<text class="t" x="1226.25" y="1688.7">MoveNodeDuplicator</text>
<text y="1739.1"><tspan x="1115.2" dy="0">+ MoveNodeDuplicator()</tspan><tspan x="1115.2" dy="14.63">+ duplicateMoveNode()</tspan><tspan x="1115.2" dy="14.63">+ duplicateMove()</tspan><tspan x="1115.2" dy="14.63">+ duplicateProgramOperationPtr()</tspan><tspan x="1115.2" dy="14.63">+ disposeMoveNode()</tspan><tspan x="1115.2" dy="14.63">+ setBBN()</tspan><tspan x="1115.2" dy="14.63">+ getMoveNode()</tspan><tspan x="1115.2" dy="14.63">+ getProgramOperation()</tspan><tspan x="1115.2" dy="14.63">+ dumpDDG()</tspan></text>
</g>

<g id="BUMoveNodeSelector" class="red">
<rect x="1373" y="1643.3" width="195" height="251.8"/>
<line x1="1373" y1="1668.7" x2="1568" y2="1668.7"/><line x1="1373" y1="1694.1" x2="1568" y2="1694.1"/>
<text class="t" x="1470.5" y="1658.7">BUMoveNodeSelector</text>
<text x="1383.7" y="1684.1">- ddgOwned_</text>
<text y="1709.5"><tspan x="1383.7" dy="0">+ BUMoveNodeSelector()</tspan><tspan x="1383.7" dy="14.63">+ BUMoveNodeSelector()</tspan><tspan x="1383.7" dy="14.63">+ BUMoveNodeSelector()</tspan><tspan x="1383.7" dy="14.63">+ ~BUMoveNodeSelector()</tspan><tspan x="1383.7" dy="14.63">+ candidates()</tspan><tspan x="1383.7" dy="14.63">+ notifyScheduled()</tspan><tspan x="1383.7" dy="14.63">+ mightBeReady()</tspan><tspan x="1383.7" dy="14.63">+ dataDependenceGraph()</tspan><tspan x="1383.7" dy="14.63">+ initializeReadylist()</tspan><tspan x="1383.7" dy="14.63">+ queueOperation()</tspan><tspan x="1383.7" dy="14.63">- isReadyToBeScheduled()</tspan><tspan x="1383.7" dy="14.63">- isReadyToBeScheduled()</tspan><tspan x="1383.7" dy="14.63">- isReadyToBeScheduled()</tspan></text>
</g>

<g id="MapMoveNodeFUPort" class="gry">
<rect x="306.5" y="805" width="210.8" height="104.7"/>
<line x1="306.5" y1="859.7" x2="517.3" y2="859.7"/><line x1="306.5" y1="884.7" x2="517.3" y2="884.7"/>
<text x="317.5" y="820.4">std::map&lt; MoveNode</text>
<text x="321.6" y="835">*, TTAMachine::FUPort</text>
<text x="321.6" y="849.7">*, MoveNode::Comparator &gt;</text>
</g>

<g id="LoopAnalysisResult" class="blk">
<rect x="617.8" y="805" width="203.9" height="105.5"/>
<line x1="617.8" y1="845.1" x2="821.7" y2="845.1"/><line x1="617.8" y1="885.1" x2="821.7" y2="885.1"/>
<text class="t" x="719.75" y="820.4">LoopAnalyzer::LoopAnalysis</text>
<text class="t" x="719.75" y="835">Result</text>
<text y="860.5"><tspan x="628.5" dy="0">+ iterationCount</tspan><tspan x="628.5" dy="14.63">+ counterMultiplier</tspan></text>
<text x="628.5" y="900.5">+ LoopAnalysisResult()</text>
</g>

<g id="MultimapFUPortMoveNode" class="gry">
<rect x="481.5" y="1418" width="207.9" height="90.1"/>
<line x1="481.5" y1="1458.1" x2="689.4" y2="1458.1"/><line x1="481.5" y1="1483.1" x2="689.4" y2="1483.1"/>
<text class="t" x="585.45" y="1433.4">std::multimap&lt; TTAMachine</text>
<text class="t" x="585.45" y="1448">::FUPort *, MoveNode * &gt;</text>
</g>

<g id="MultimapTCEStringMoveNode" class="gry">
<rect x="791.8" y="1418" width="194.7" height="90.1"/>
<line x1="791.8" y1="1458.1" x2="986.5" y2="1458.1"/><line x1="791.8" y1="1483.1" x2="986.5" y2="1483.1"/>
<text class="t" x="889.15" y="1433.4">std::multimap&lt; TCEString,</text>
<text class="t" x="889.15" y="1448">MoveNode * &gt;</text>
</g>

<g id="MapMoveNodeMoveNode" class="gry">
<rect x="1051.7" y="526.7" width="200.3" height="104.7"/>
<line x1="1051.7" y1="581.4" x2="1252" y2="581.4"/><line x1="1051.7" y1="606.4" x2="1252" y2="606.4"/>
<text x="1063.1" y="542.1">std::map&lt; MoveNode</text>
<text x="1066.5" y="556.7">*, MoveNode *, MoveNode</text>
<text class="t" x="1151.85" y="571.4">::Comparator &gt;</text>
</g>
</svg>
